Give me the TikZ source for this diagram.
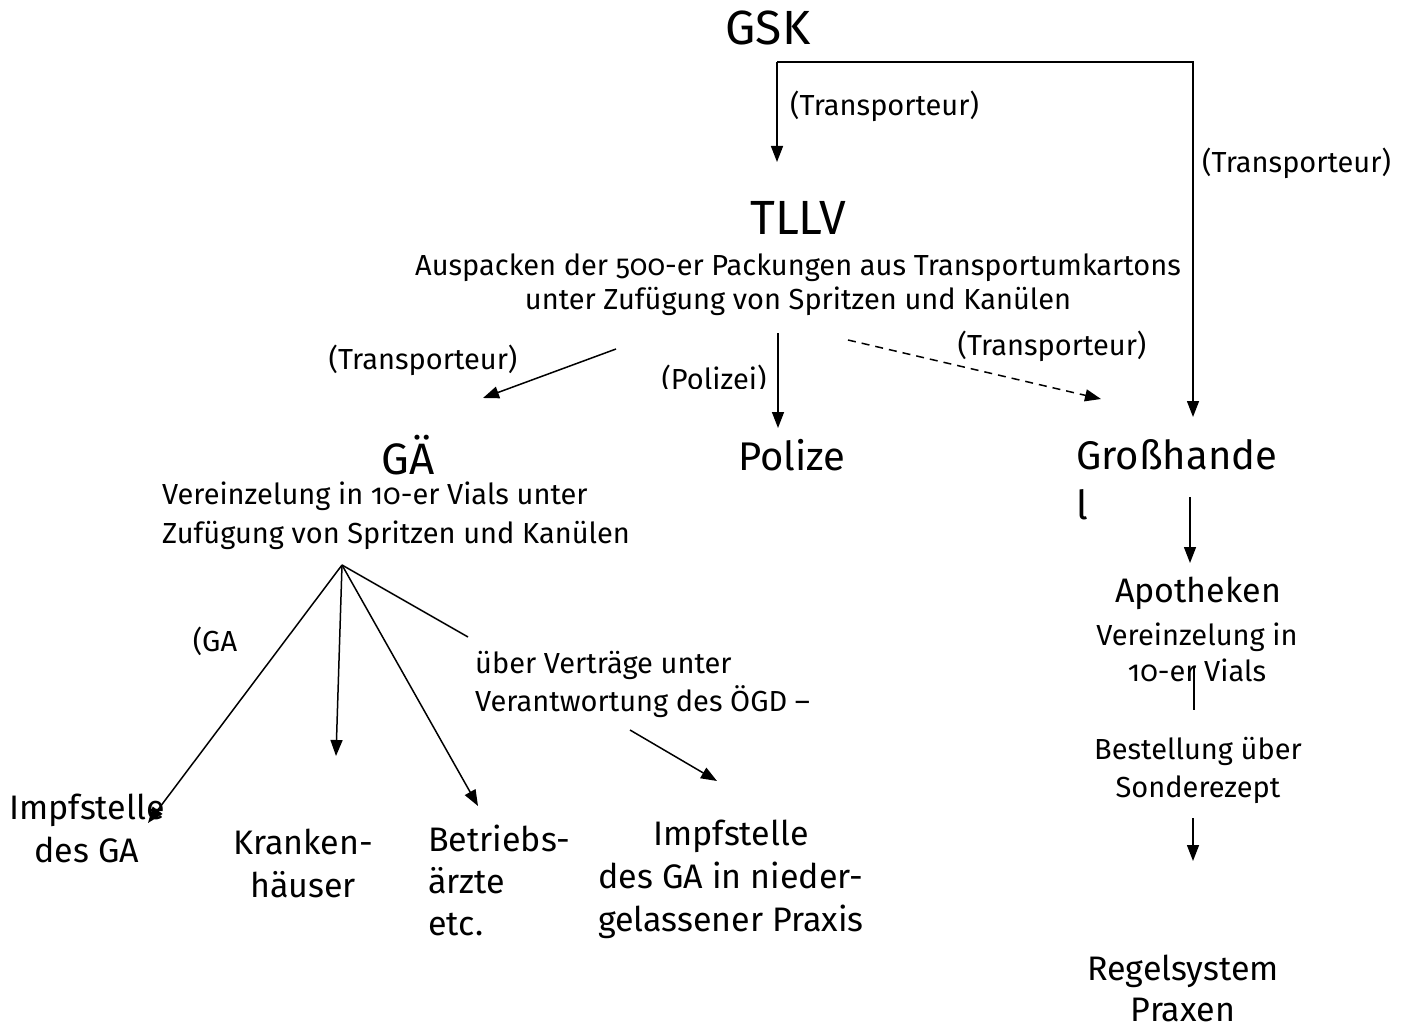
\documentclass[tikz,border=0pt]{standalone}
\usepackage{fontspec}
\setmainfont{Fira Sans}[Numbers=OldStyle]
\usetikzlibrary{arrows.meta}
\begin{document}
\begin{tikzpicture}[x=1pt,y=-1pt,
  big/.style={font=\fontsize{40}{50}\selectfont, inner sep=0pt},
  mid/.style={font=\fontsize{34}{43}\selectfont, inner sep=0pt, align=center},
  small/.style={font=\fontsize{29}{37}\selectfont, inner sep=0pt, align=center},
  arr/.style={line width=1.5pt, -{Triangle[length=16pt,width=12pt]}},
  ln/.style={line width=1.5pt},
  dsh/.style={line width=1.5pt, dash pattern=on 8pt off 6pt, -{Triangle[length=16pt,width=12pt]}}]
\useasboundingbox (0,0) rectangle (1413,1032);

% nodes
\node[big, font=\fontsize{48}{50}\selectfont] (gsk) at (768,28) {GSK};
\node[big, font=\fontsize{48}{50}\selectfont] (tllv) at (798,218) {TLLV};
\node[small, font=\fontsize{29}{34}\selectfont] (tllvtxt) at (798,285) {Auspacken der 500-er Packungen aus Transportumkartons\\unter Zufügung von Spritzen und Kanülen};
\node[big, font=\fontsize{44}{50}\selectfont] (ga) at (408,455) {GÄ};
\node[small, align=left, anchor=west, font=\fontsize{29}{39}\selectfont] (gatxt) at (162,516) {Vereinzelung in 10-er Vials unter\\Zufügung von Spritzen und Kanülen};
\node[big] (pol) at (792,455) {Polize};
\node[big, align=left, anchor=west] (gh) at (1076,480) {Großhande\\l};
\node[mid] (apo) at (1198,593) {Apotheken};
\node[small, font=\fontsize{29}{36}\selectfont] (apotxt) at (1197,652) {Vereinzelung in\\10-er Vials};
\node[small, font=\fontsize{29}{38}\selectfont] (best) at (1198,770) {Bestellung über\\Sonderezept};
\node[mid, font=\fontsize{34}{41}\selectfont] (regel) at (1183,988) {Regelsystem\\Praxen};
\node[mid] (imp1) at (87,828) {Impfstelle\\des GA};
\node[mid] (kh) at (303,863) {Kranken-\\häuser};
\node[mid, align=left, anchor=west, font=\fontsize{34}{42}\selectfont] (betr) at (428,880) {Betriebs-\\ärzte\\etc.};
\node[mid, font=\fontsize{34}{43}\selectfont] (imp2) at (731,879) {Impfstelle\\des GA in nieder-\\gelassener Praxis};
\node[small, align=left, anchor=west, font=\fontsize{29}{38}\selectfont] (vert) at (475,684) {über Verträge unter\\Verantwortung des ÖGD –};

% labels
\node[small, anchor=west] (l1) at (790,106) {(Transporteur)};
\node[small, anchor=west] (l2) at (1202,163) {(Transporteur)};
\node[small] (l3) at (423,360) {(Transporteur)};
\node[small] (l4) at (1052,346) {(Transporteur)};
\begin{scope}
  \clip (640,340) rectangle (790,388);
  \node[small] (l5) at (714,379) {(Polizei)};
\end{scope}
\node[small] (l6) at (215,641) {(GA};

% coordinates
\coordinate (gskL) at (777,62);
\coordinate (gskR) at (1193,62);
\coordinate (tllvIn) at (777,162);
\coordinate (ghIn) at (1193,417);
\coordinate (tg1) at (616,349);
\coordinate (ga1) at (483,398);
\coordinate (tp1) at (778,333);
\coordinate (pol1) at (778,428);
\coordinate (tgh1) at (848,340);
\coordinate (gh1) at (1101,399);
\coordinate (gh2) at (1190,497);
\coordinate (apo1) at (1190,563);
\coordinate (apo2) at (1194,668);
\coordinate (best1) at (1194,710);
\coordinate (best2) at (1193,818);
\coordinate (regel1) at (1193,861);
\coordinate (fan) at (342,565);
\coordinate (imp1a) at (148,823);
\coordinate (kh1) at (336,756);
\coordinate (betr1) at (478,806);
\coordinate (fanend) at (468,637);
\coordinate (vert1) at (630,730);
\coordinate (imp2a) at (717,781);

% connectors
\draw[arr] (gskL) -- (gskR) -- (ghIn);
\draw[arr] (gskL) -- (tllvIn);
\draw[arr] (tg1) -- (ga1);
\draw[arr] (tp1) -- (pol1);
\draw[dsh] (tgh1) -- (gh1);
\draw[arr] (gh2) -- (apo1);
\draw[ln] (apo2) -- (best1);
\draw[arr] (best2) -- (regel1);
\draw[arr] (fan) -- (imp1a);
\draw[arr] (fan) -- (kh1);
\draw[arr] (fan) -- (betr1);
\draw[ln] (fan) -- (fanend);
\draw[arr] (vert1) -- (imp2a);
\end{tikzpicture}
\end{document}
